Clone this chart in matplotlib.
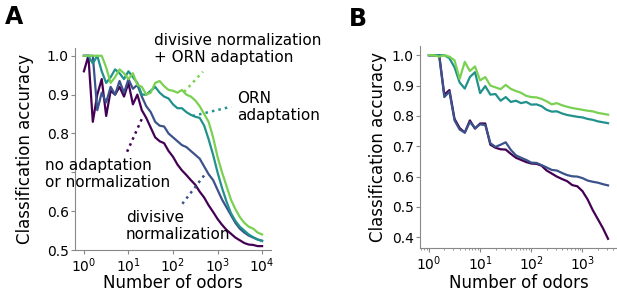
import numpy as np
import matplotlib
matplotlib.use("Agg")
import matplotlib.pyplot as plt

# Panel A: number of odors from 1 to 10^4, 0.1-decade steps
odors_a = 10 ** (np.arange(41) / 10)
no_adapt_a = [0.96, 1.0, 0.83, 0.90, 0.94, 0.845, 0.91, 0.90, 0.92, 0.895,
              0.93, 0.875, 0.90, 0.86, 0.84, 0.815, 0.79, 0.78, 0.775, 0.755,
              0.74, 0.72, 0.705, 0.693, 0.68, 0.668, 0.65, 0.635, 0.615, 0.598,
              0.58, 0.565, 0.552, 0.542, 0.532, 0.525, 0.518, 0.514, 0.513, 0.51, 0.51]
div_norm_a = [1.0, 1.0, 1.0, 0.86, 0.905, 0.88, 0.92, 0.90, 0.935, 0.905,
              0.94, 0.915, 0.925, 0.895, 0.87, 0.855, 0.83, 0.82, 0.818, 0.80,
              0.79, 0.78, 0.77, 0.765, 0.755, 0.745, 0.735, 0.715, 0.695, 0.68,
              0.655, 0.63, 0.61, 0.59, 0.57, 0.555, 0.545, 0.537, 0.532, 0.527, 0.524]
orn_a = [1.0, 1.0, 0.98, 1.0, 0.96, 0.93, 0.945, 0.965, 0.955, 0.94,
         0.96, 0.945, 0.93, 0.90, 0.90, 0.91, 0.92, 0.905, 0.895, 0.89,
         0.875, 0.865, 0.865, 0.855, 0.848, 0.843, 0.84, 0.82, 0.785, 0.745,
         0.70, 0.66, 0.625, 0.595, 0.575, 0.56, 0.55, 0.54, 0.533, 0.527, 0.523]
both_a = [1.0, 1.0, 1.0, 1.0, 1.0, 0.97, 0.93, 0.945, 0.965, 0.955,
          0.94, 0.955, 0.925, 0.92, 0.90, 0.905, 0.93, 0.935, 0.922, 0.912,
          0.91, 0.905, 0.912, 0.90, 0.895, 0.885, 0.87, 0.85, 0.83, 0.79,
          0.74, 0.70, 0.665, 0.63, 0.605, 0.585, 0.57, 0.56, 0.555, 0.545, 0.54]

# Panel B: number of odors from 1 to ~3000
odors_b = 10 ** (np.arange(36) / 10)
no_adapt_b = [1.0, 1.0, 1.0, 0.87, 0.885, 0.79, 0.76, 0.745, 0.785, 0.758,
              0.775, 0.775, 0.705, 0.695, 0.69, 0.689, 0.675, 0.662, 0.655, 0.648,
              0.643, 0.642, 0.636, 0.62, 0.61, 0.60, 0.592, 0.585, 0.572, 0.568,
              0.552, 0.525, 0.49, 0.46, 0.43, 0.395]
div_norm_b = [1.0, 1.0, 1.0, 0.862, 0.88, 0.785, 0.755, 0.745, 0.78, 0.76,
              0.772, 0.77, 0.71, 0.698, 0.705, 0.713, 0.688, 0.67, 0.662, 0.655,
              0.646, 0.645, 0.638, 0.63, 0.622, 0.62, 0.612, 0.605, 0.601, 0.60,
              0.595, 0.587, 0.583, 0.58, 0.575, 0.571]
orn_b = [1.0, 1.0, 1.0, 1.0, 0.99, 0.96, 0.91, 0.89, 0.928, 0.944,
         0.875, 0.898, 0.87, 0.872, 0.85, 0.862, 0.846, 0.85, 0.842, 0.846,
         0.837, 0.838, 0.832, 0.82, 0.814, 0.815, 0.808, 0.803, 0.80, 0.797,
         0.795, 0.79, 0.787, 0.782, 0.779, 0.776]
both_b = [1.0, 1.0, 0.995, 1.0, 0.995, 0.983, 0.922, 0.978, 0.948, 0.963,
          0.917, 0.928, 0.90, 0.894, 0.888, 0.902, 0.889, 0.882, 0.876, 0.866,
          0.862, 0.861, 0.856, 0.848, 0.838, 0.842, 0.835, 0.83, 0.826, 0.823,
          0.82, 0.817, 0.815, 0.81, 0.807, 0.804]

yticks_a = [0.5, 0.6, 0.7, 0.8, 0.9, 1.0]
yticklabels_a = ["0.5", "0.6", "", "0.8", "0.9", "1.0"]
yticks_b = [0.4, 0.5, 0.6, 0.7, 0.8, 0.9, 1.0]

c_none = "#440154"
c_div = "#3b528b"
c_orn = "#21918c"
c_both = "#7ad151"

W, H = 617, 297
fig = plt.figure(figsize=(W / 100, H / 100), dpi=100)
ax_a = fig.add_axes([75 / W, 1 - 250 / H, 196 / W, 202 / H])
ax_b = fig.add_axes([420 / W, 1 - 248 / H, 197 / W, 202 / H])

for ax, x, series in [
    (ax_a, odors_a, [no_adapt_a, div_norm_a, orn_a, both_a]),
    (ax_b, odors_b, [no_adapt_b, div_norm_b, orn_b, both_b]),
]:
    for y, c in zip(series, [c_none, c_div, c_orn, c_both]):
        ax.plot(x, y, color=c, lw=1.6)
    ax.set_xscale("log")
    ax.spines["top"].set_visible(False)
    ax.spines["right"].set_visible(False)
    for s in ["left", "bottom"]:
        ax.spines[s].set_color("#888888")
    ax.tick_params(labelsize=10, length=3, pad=1.5, color="#888888")
    ax.tick_params(which="minor", length=1.5, color="#888888")
    ax.set_xlabel("Number of odors", fontsize=12)
    ax.set_ylabel("Classification accuracy", fontsize=12)

ax_a.set_ylim(0.5, 1.02)
ax_a.set_yticks(yticks_a)
ax_a.set_yticklabels(yticklabels_a)
ax_a.set_xticks([1, 10, 100, 1000, 10000])
ax_b.set_yticks(yticks_b)
ax_b.set_xticks([1, 10, 100, 1000])

ax_a.xaxis.set_label_coords(0.5, -0.119)
ax_b.xaxis.set_label_coords(0.5, -0.129)
ax_a.yaxis.set_label_coords(-0.209, 0.5)
ax_b.yaxis.set_label_coords(-0.168, 0.5)

# dotted connectors from curves to labels
ax_a.plot([10**2.25, 10**2.67], [0.907, 0.959], ls=":", lw=1.8, color=c_both, clip_on=False)
ax_a.plot([10**2.44, 10**3.31], [0.845, 0.869], ls=":", lw=1.8, color=c_orn, clip_on=False)
ax_a.plot([10**0.97, 10**1.31], [0.753, 0.84], ls=":", lw=1.8, color=c_none, clip_on=False)
ax_a.plot([10**2.21, 10**2.74], [0.619, 0.698], ls=":", lw=1.8, color=c_div, clip_on=False)

def label(px, py, s):
    fig.text(px / W, 1 - py / H, s, fontsize=11, va="center", ha="left", linespacing=1.2)

label(154, 49, "divisive normalization\n+ ORN adaptation")
label(237, 107, "ORN\nadaptation")
label(45, 174, "no adaptation\nor normalization")
label(126, 226, "divisive\nnormalization")

fig.text(5 / W, 1 - 17 / H, "A", fontsize=17, fontweight="bold", va="center")
fig.text(349 / W, 1 - 19 / H, "B", fontsize=17, fontweight="bold", va="center")

fig.savefig("out.png", dpi=100)
